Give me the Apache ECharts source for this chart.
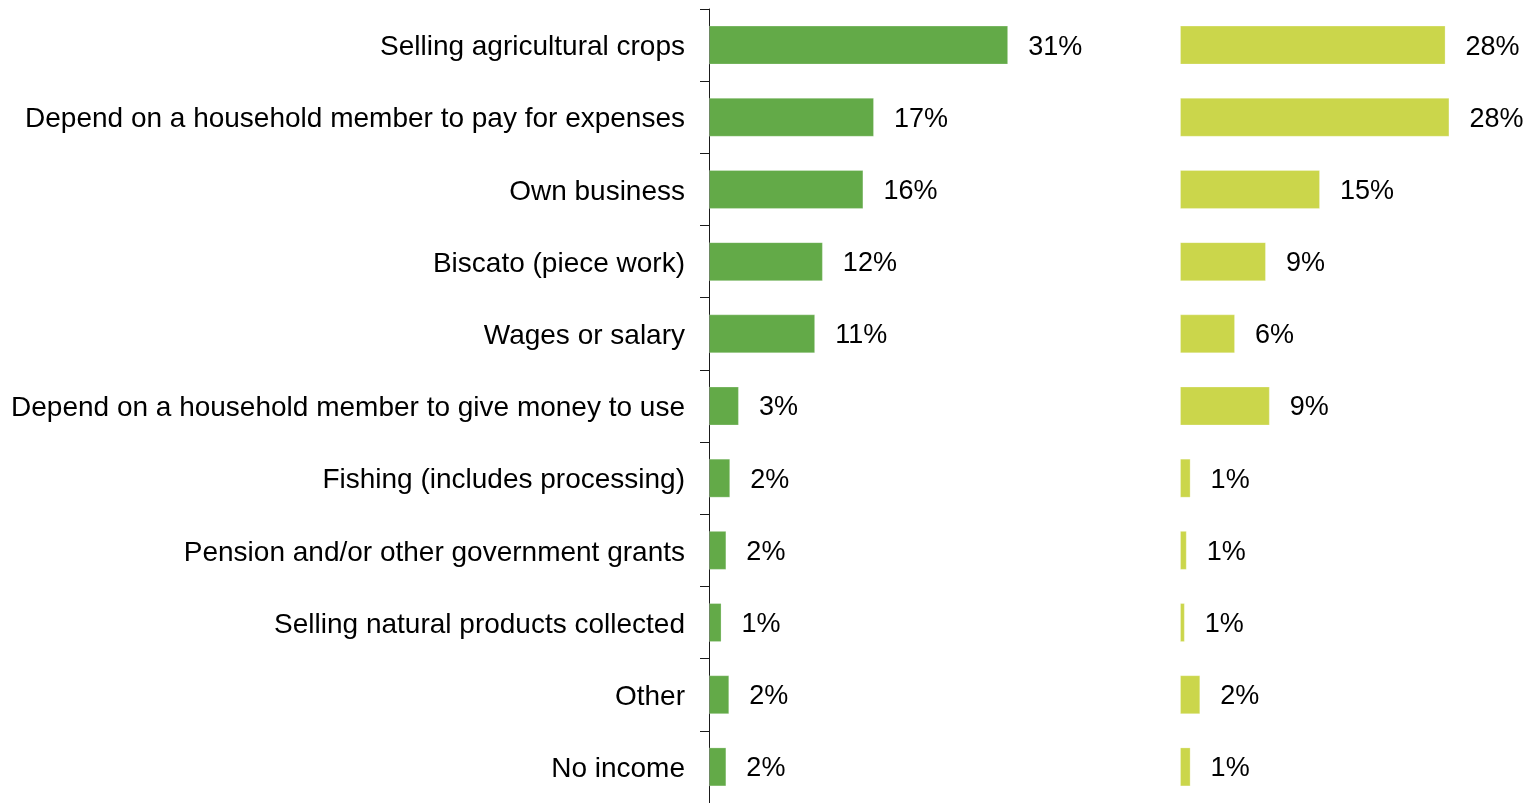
<!DOCTYPE html>
<html>
<head>
<meta charset="utf-8">
<style>
  html, body { margin: 0; padding: 0; background: #ffffff; }
  #chart { width: 1527px; height: 803px; }
</style>
<script src="https://cdn.jsdelivr.net/npm/echarts@6/dist/echarts.min.js"></script>
</head>
<body>
<div id="chart"></div>
<script>
// Sources of income, two groups shown side by side (percent of respondents)
const categories = [
  'Selling agricultural crops',
  'Depend on a household member to pay for expenses',
  'Own business',
  'Biscato (piece work)',
  'Wages or salary',
  'Depend on a household member to give money to use',
  'Fishing (includes processing)',
  'Pension and/or other government grants',
  'Selling natural products collected',
  'Other',
  'No income'
];
const leftValues  = [31.0, 17.1, 16.0, 11.8, 11.0, 3.1, 2.2, 1.8, 1.3, 2.1, 1.8];
const rightValues = [27.5, 27.9, 14.5, 8.9, 5.7, 9.3, 1.1, 0.7, 0.5, 2.1, 1.1];

const leftColor = '#63aa48';
const rightColor = '#cbd64b';
const fontFamily = '"Liberation Sans", Arial, sans-serif';

const pct = p => Math.round(p.value) + '%';

const chart = echarts.init(document.getElementById('chart'), null, { renderer: 'canvas' });

const valueLabel = {
  show: true,
  position: 'right',
  distance: 20,
  offset: [0, 2],
  fontSize: 27,
  color: '#000',
  fontFamily: fontFamily,
  formatter: pct
};

chart.setOption({
  animation: false,
  backgroundColor: '#ffffff',
  grid: [
    { left: 709, top: 9, width: 386, height: 796 },
    { left: 1180, top: 9, width: 338, height: 796 }
  ],
  xAxis: [
    { gridIndex: 0, type: 'value', min: 0, max: 40, show: false },
    { gridIndex: 1, type: 'value', min: 0, max: 35, show: false }
  ],
  yAxis: [
    {
      gridIndex: 0,
      type: 'category',
      data: categories,
      inverse: true,
      axisLine: { show: true, lineStyle: { color: '#1a1a1a', width: 1 } },
      axisTick: { show: true, length: 9, lineStyle: { color: '#1a1a1a', width: 1 } },
      axisLabel: {
        margin: 24,
        formatter: v => '{c|' + v + '}',
        rich: {
          c: {
            fontSize: 28,
            color: '#000',
            fontFamily: fontFamily,
            padding: [5, 0, 0, 0]
          }
        }
      },
      splitLine: { show: false }
    },
    {
      gridIndex: 1,
      type: 'category',
      data: categories,
      inverse: true,
      show: false
    }
  ],
  series: [
    {
      type: 'bar',
      xAxisIndex: 0,
      yAxisIndex: 0,
      data: leftValues,
      barWidth: 39,
      itemStyle: { color: leftColor, borderColor: 'rgba(255,255,255,0.25)', borderWidth: 1 },
      label: valueLabel
    },
    {
      type: 'bar',
      xAxisIndex: 1,
      yAxisIndex: 1,
      data: rightValues,
      barWidth: 39,
      itemStyle: { color: rightColor, borderColor: 'rgba(255,255,255,0.25)', borderWidth: 1 },
      label: valueLabel
    }
  ]
});
</script>
</body>
</html>
